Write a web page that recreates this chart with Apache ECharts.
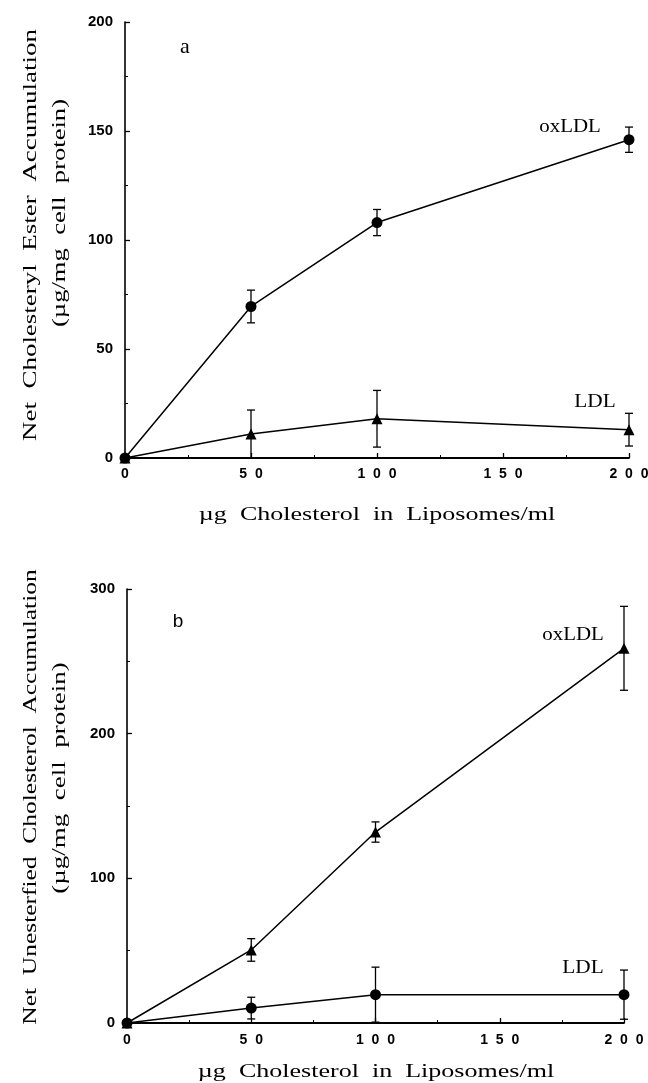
<!DOCTYPE html>
<html><head><meta charset="utf-8">
<script src="https://cdn.jsdelivr.net/npm/echarts@6/dist/echarts.min.js"></script>
<style>html,body{margin:0;padding:0;background:#fff}#c{width:648px;height:1083px}</style>
</head><body><div id="c"></div>
<script>
// ---- data ----
const doses = [0, 50, 100, 200];
const esterOxLDL = [0, 69.5, 108, 146];
const esterOxLDLErr = [0, 7.5, 6, 5.8];
const esterLDL = [0, 11, 18, 13];
const esterLDLErr = [0, 11, 13, 7.5];
const freeOxLDL = [0, 50.5, 132, 259];
const freeOxLDLErr = [0, 7.8, 7, 29];
const freeLDL = [0, 10.3, 19.6, 19.6];
const freeLDLErr = [0, 7.5, 19, 17];
const xTitle = 'µg Cholesterol in Liposomes/ml';
const yTitleA = 'Net Cholesteryl Ester Accumulation';
const yTitleB = 'Net Unesterfied Cholesterol Accumulation';
const yUnit = '(µg/mg cell protein)';
const seriesNames = ['oxLDL', 'LDL'];
const panelNames = ['a', 'b'];

// ---- helpers ----
const pts = (xs, ys) => xs.map((x, i) => [x, ys[i]]);
const errPts = (xs, ys, es) => xs.map((x, i) => [x, ys[i], es[i]]);
const wide = s => s.split(' ').join('  ');
const BLACK = '#000';

function errRender(params, api) {
  const x = api.value(0), y = api.value(1), e = api.value(2);
  if (!e) return null;
  const lo = api.coord([x, Math.max(0, y - e)]);
  const hi = api.coord([x, y + e]);
  const w = 4;
  const st = {stroke: BLACK, lineWidth: 1.3};
  const ch = [
    {type: 'line', shape: {x1: lo[0], y1: lo[1], x2: hi[0], y2: hi[1]}, style: st},
    {type: 'line', shape: {x1: hi[0] - w, y1: hi[1], x2: hi[0] + w, y2: hi[1]}, style: st}
  ];
  if (y - e > 0.5) ch.push({type: 'line', shape: {x1: lo[0] - w, y1: lo[1], x2: lo[0] + w, y2: lo[1]}, style: st});
  return {type: 'group', children: ch};
}

function xAxisCfg(gi, margin) {
  return {
    type: 'value', gridIndex: gi, min: 0, max: 200, interval: 50,
    axisLine: {show: true, onZero: false, lineStyle: {color: BLACK, width: 1.8}},
    axisTick: {show: true, inside: true, length: 5, lineStyle: {color: BLACK, width: 1.3}},
    minorTick: {show: true, splitNumber: 2, length: 3, lineStyle: {color: BLACK, width: 1}},
    splitLine: {show: false},
    axisLabel: {color: BLACK, fontWeight: 'bold', fontSize: 14, fontFamily: 'Liberation Sans', margin: margin,
      formatter: v => String(v).split('').join('  ')}
  };
}
function yAxisCfg(gi, max, interval) {
  return {
    type: 'value', gridIndex: gi, min: 0, max: max, interval: interval,
    axisLine: {show: true, onZero: false, lineStyle: {color: BLACK, width: 1.6}},
    axisTick: {show: true, inside: true, length: 5, lineStyle: {color: BLACK, width: 1.3}},
    minorTick: {show: true, splitNumber: 2, length: 3, lineStyle: {color: BLACK, width: 1}},
    splitLine: {show: false},
    axisLabel: {color: BLACK, fontWeight: 'bold', fontSize: 15, fontFamily: 'Liberation Sans', margin: 12}
  };
}
function lineSeries(name, gi, data, symbol, size) {
  return {
    type: 'line', name: name, xAxisIndex: gi, yAxisIndex: gi, data: data,
    symbol: symbol, symbolSize: size, showAllSymbol: true,
    lineStyle: {color: BLACK, width: 1.5}, itemStyle: {color: BLACK}, z: 3
  };
}
function errSeries(gi, data) {
  return {type: 'custom', xAxisIndex: gi, yAxisIndex: gi, renderItem: errRender, data: data,
    encode: {x: 0, y: 1}, z: 2, silent: true};
}
function txt(x, y, text, font, opts) {
  return Object.assign({
    type: 'text', x: x, y: y, silent: true,
    style: {text: text, font: font, fill: BLACK, align: 'center', verticalAlign: 'middle',
      textAlign: 'center', textVerticalAlign: 'middle'}
  }, opts || {});
}

const SERIF = '"Liberation Serif", "Times New Roman", serif';
const chart = echarts.init(document.getElementById('c'), null, {renderer: 'canvas'});
chart.setOption({
  animation: false,
  backgroundColor: '#fff',
  grid: [
    {left: 125, right: 19, top: 22, height: 436, outerBoundsMode: 'none', containLabel: false},
    {left: 127, right: 24, top: 589, height: 434, outerBoundsMode: 'none', containLabel: false}
  ],
  xAxis: [xAxisCfg(0, 9), xAxisCfg(1, 10)],
  yAxis: [yAxisCfg(0, 200, 50), yAxisCfg(1, 300, 100)],
  series: [
    errSeries(0, errPts(doses, esterOxLDL, esterOxLDLErr)),
    errSeries(0, errPts(doses, esterLDL, esterLDLErr)),
    lineSeries(seriesNames[0], 0, pts(doses, esterOxLDL), 'circle', 11),
    lineSeries(seriesNames[1], 0, pts(doses, esterLDL), 'triangle', 11),
    errSeries(1, errPts(doses, freeOxLDL, freeOxLDLErr)),
    errSeries(1, errPts(doses, freeLDL, freeLDLErr)),
    lineSeries(seriesNames[0], 1, pts(doses, freeOxLDL), 'triangle', 11),
    lineSeries(seriesNames[1], 1, pts(doses, freeLDL), 'circle', 11)
  ],
  graphic: [
    txt(185, 47, panelNames[0], '22px ' + SERIF),
    txt(178, 622, panelNames[1], '19px "Liberation Sans", Arial, sans-serif'),
    txt(570, 127, seriesNames[0], '19px ' + SERIF, {scaleX: 1.1}),
    txt(595, 402, seriesNames[1], '19px ' + SERIF, {scaleX: 1.12}),
    txt(573, 635, seriesNames[0], '19px ' + SERIF, {scaleX: 1.1}),
    txt(583, 968, seriesNames[1], '19px ' + SERIF, {scaleX: 1.12}),
    txt(377, 515, wide(xTitle), '19px ' + SERIF, {scaleX: 1.37}),
    txt(376, 1072, wide(xTitle), '19px ' + SERIF, {scaleX: 1.37}),
    txt(31, 235, wide(yTitleA), '19px ' + SERIF, {rotation: Math.PI / 2, scaleX: 1.42}),
    txt(60, 213, wide(yUnit), '19px ' + SERIF, {rotation: Math.PI / 2, scaleX: 1.4}),
    txt(31, 797, wide(yTitleB), '19px ' + SERIF, {rotation: Math.PI / 2, scaleX: 1.34}),
    txt(60, 778, wide(yUnit), '19px ' + SERIF, {rotation: Math.PI / 2, scaleX: 1.42})
  ]
});
</script></body></html>
